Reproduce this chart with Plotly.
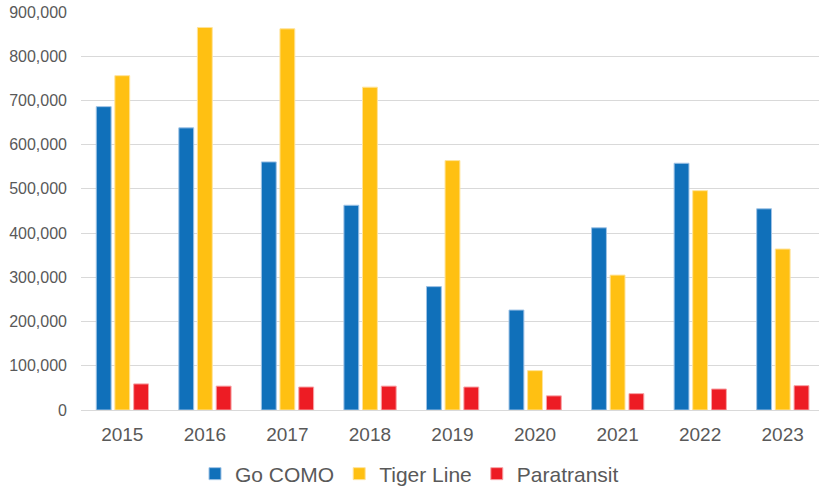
import plotly.graph_objects as go

years = ["2015", "2016", "2017", "2018", "2019", "2020", "2021", "2022", "2023"]
go_como = [686000, 638000, 561000, 463000, 279000, 226000, 412000, 558000, 455000]
tiger_line = [756000, 865000, 862000, 730000, 564000, 89000, 305000, 496000, 364000]
paratransit = [59000, 54000, 52000, 54000, 52000, 32000, 37000, 47500, 55000]

series = [
    ("Go COMO", go_como, "#1070BA", "#9FC3E6", -0.315),
    ("Tiger Line", tiger_line, "#FFC012", "#FFE39A", -0.09),
    ("Paratransit", paratransit, "#ED1C24", "#F7A4A7", 0.138),
]

fig = go.Figure()
for name, vals, col, lcol, off in series:
    fig.add_trace(go.Bar(
        x=list(range(len(years))), y=vals, name=name,
        marker=dict(color=col, line=dict(color=lcol, width=1)),
        width=0.18, offset=off,
    ))

fig.update_layout(
    width=819, height=490,
    margin=dict(l=81, r=0, t=12, b=80),
    paper_bgcolor="white", plot_bgcolor="white",
    barmode="overlay",
    font=dict(family="Liberation Sans, Arial, sans-serif", color="#595959"),
    showlegend=True,
    legend=dict(orientation="h", x=0.5, xanchor="center", xref="container",
                y=16/490, yanchor="middle", yref="container",
                font=dict(size=21, color="#595959"), itemwidth=30,
                traceorder="normal"),
    xaxis=dict(
        tickmode="array", tickvals=list(range(len(years))), ticktext=years,
        range=[-0.5, 8.44], showgrid=False, zeroline=False,
        showline=False, ticks="", tickfont=dict(size=19, color="#595959"),
        ticklabelstandoff=11,
    ),
    yaxis=dict(
        range=[0, 900000], dtick=100000, tickformat=",d",
        showgrid=True, gridcolor="#D9D9D9", gridwidth=1,
        zeroline=True, zerolinecolor="#D9D9D9", zerolinewidth=1,
        showline=False, ticks="", tickfont=dict(size=16, color="#595959"),
        ticklabelstandoff=13,
    ),
)

fig.write_html("out.html")
